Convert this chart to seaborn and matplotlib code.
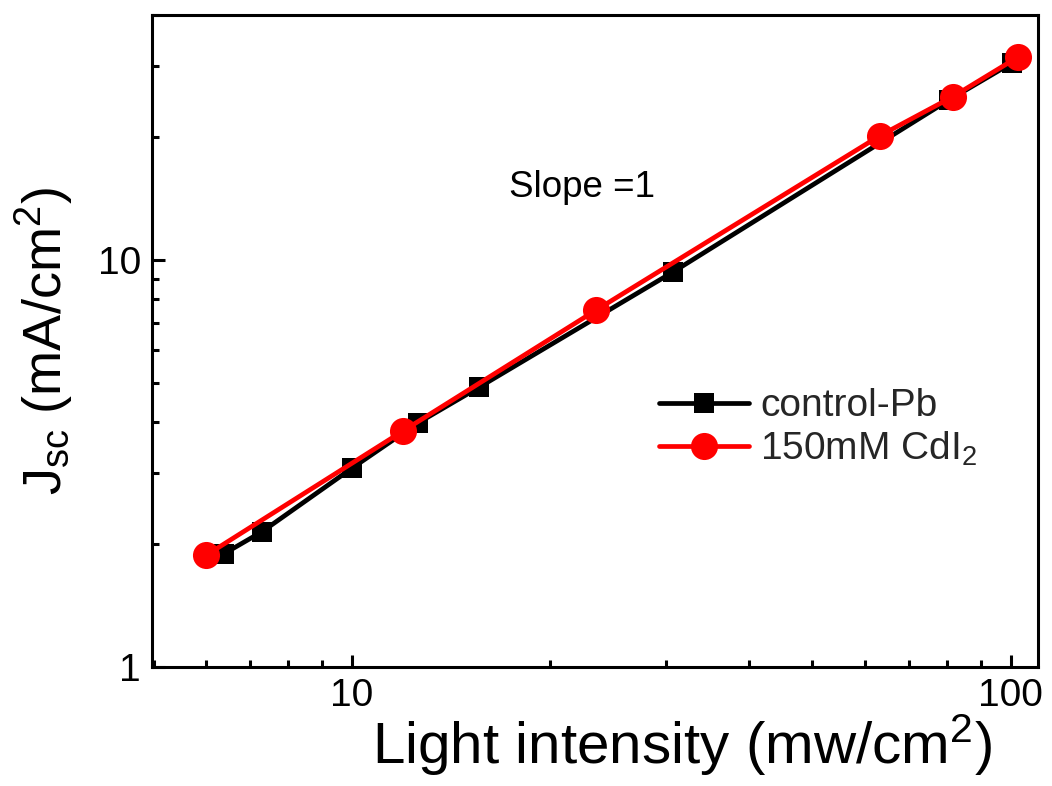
import numpy as np
import pandas as pd
import matplotlib
matplotlib.use("Agg")
import matplotlib.pyplot as plt
from matplotlib.ticker import LogLocator, FixedLocator, FixedFormatter, NullFormatter
import seaborn as sns

# Short-circuit current density versus light intensity
control_intensity = [6.4, 7.3, 10.0, 12.6, 15.6, 30.7, 80.5, 100.5]
control_jsc = [1.90, 2.15, 3.08, 3.98, 4.87, 9.34, 24.7, 30.5]

cdi2_intensity = [6.0, 11.95, 23.5, 63.3, 81.7, 102.5]
cdi2_jsc = [1.88, 3.80, 7.54, 20.2, 25.2, 31.5]

series_labels = ["control-Pb", "150mM CdI$_2$"]
x_ticks = [10, 100]
x_tick_labels = ["10", "100"]
y_ticks = [1, 10]
y_tick_labels = ["1", "10"]

sns.set_theme(style="white")
plt.rcParams["font.family"] = ["Liberation Sans", "DejaVu Sans"]
plt.rcParams["mathtext.fontset"] = "custom"
plt.rcParams["mathtext.rm"] = "Liberation Sans"
plt.rcParams["mathtext.it"] = "Liberation Sans:italic"
plt.rcParams["mathtext.default"] = "regular"

fig = plt.figure(figsize=(10.52, 7.86), dpi=100)
ax = fig.add_axes([0.1445, 0.1514, 0.8422, 0.8296])

df_control = pd.DataFrame({"x": control_intensity, "y": control_jsc})
df_cdi2 = pd.DataFrame({"x": cdi2_intensity, "y": cdi2_jsc})

sns.lineplot(data=df_control, x="x", y="y", ax=ax, color="black", lw=3.4,
             marker="s", markersize=14.5, markeredgewidth=0,
             label=series_labels[0], zorder=3)
sns.lineplot(data=df_cdi2, x="x", y="y", ax=ax, color="#ff0000", lw=3.4,
             marker="o", markersize=19.5, markeredgewidth=0,
             label=series_labels[1], zorder=4)

ax.set_xscale("log")
ax.set_yscale("log")
ax.set_xlim(4.97, 110)
ax.set_ylim(1, 40)

ax.xaxis.set_major_locator(FixedLocator(x_ticks))
ax.xaxis.set_major_formatter(FixedFormatter(x_tick_labels))
ax.yaxis.set_major_locator(FixedLocator(y_ticks))
ax.yaxis.set_major_formatter(FixedFormatter(y_tick_labels))
ax.xaxis.set_minor_locator(LogLocator(base=10, subs=np.arange(2, 10)))
ax.yaxis.set_minor_locator(LogLocator(base=10, subs=np.arange(2, 10)))
ax.xaxis.set_minor_formatter(NullFormatter())
ax.yaxis.set_minor_formatter(NullFormatter())

ax.tick_params(which="major", direction="in", length=9, width=2.2,
               labelsize=28, color="black", labelcolor="black", pad=8,
               bottom=True, left=True, top=False, right=False)
ax.tick_params(which="minor", direction="in", length=5, width=2.2,
               color="black", bottom=True, left=True, top=False, right=False)

for spine in ax.spines.values():
    spine.set_color("black")
    spine.set_linewidth(2.2)

ax.set_xlabel("Light intensity (mw/cm$^2$)", fontsize=42, color="black")
ax.set_ylabel("J$_{sc}$ (mA/cm$^2$)", fontsize=39, color="black")
ax.xaxis.set_label_coords(0.598, -0.07)
ax.yaxis.set_label_coords(-0.087, 0.5)

ax.text(0.485, 0.735, "Slope =1", transform=ax.transAxes, fontsize=26.5,
        ha="center", va="center", color="black")

leg = ax.legend(loc="center left", bbox_to_anchor=(0.555, 0.366), frameon=False,
                fontsize=28, handlelength=2.3, handletextpad=0.3,
                labelspacing=0.15, borderaxespad=0)

fig.savefig("out.png", dpi=100)
